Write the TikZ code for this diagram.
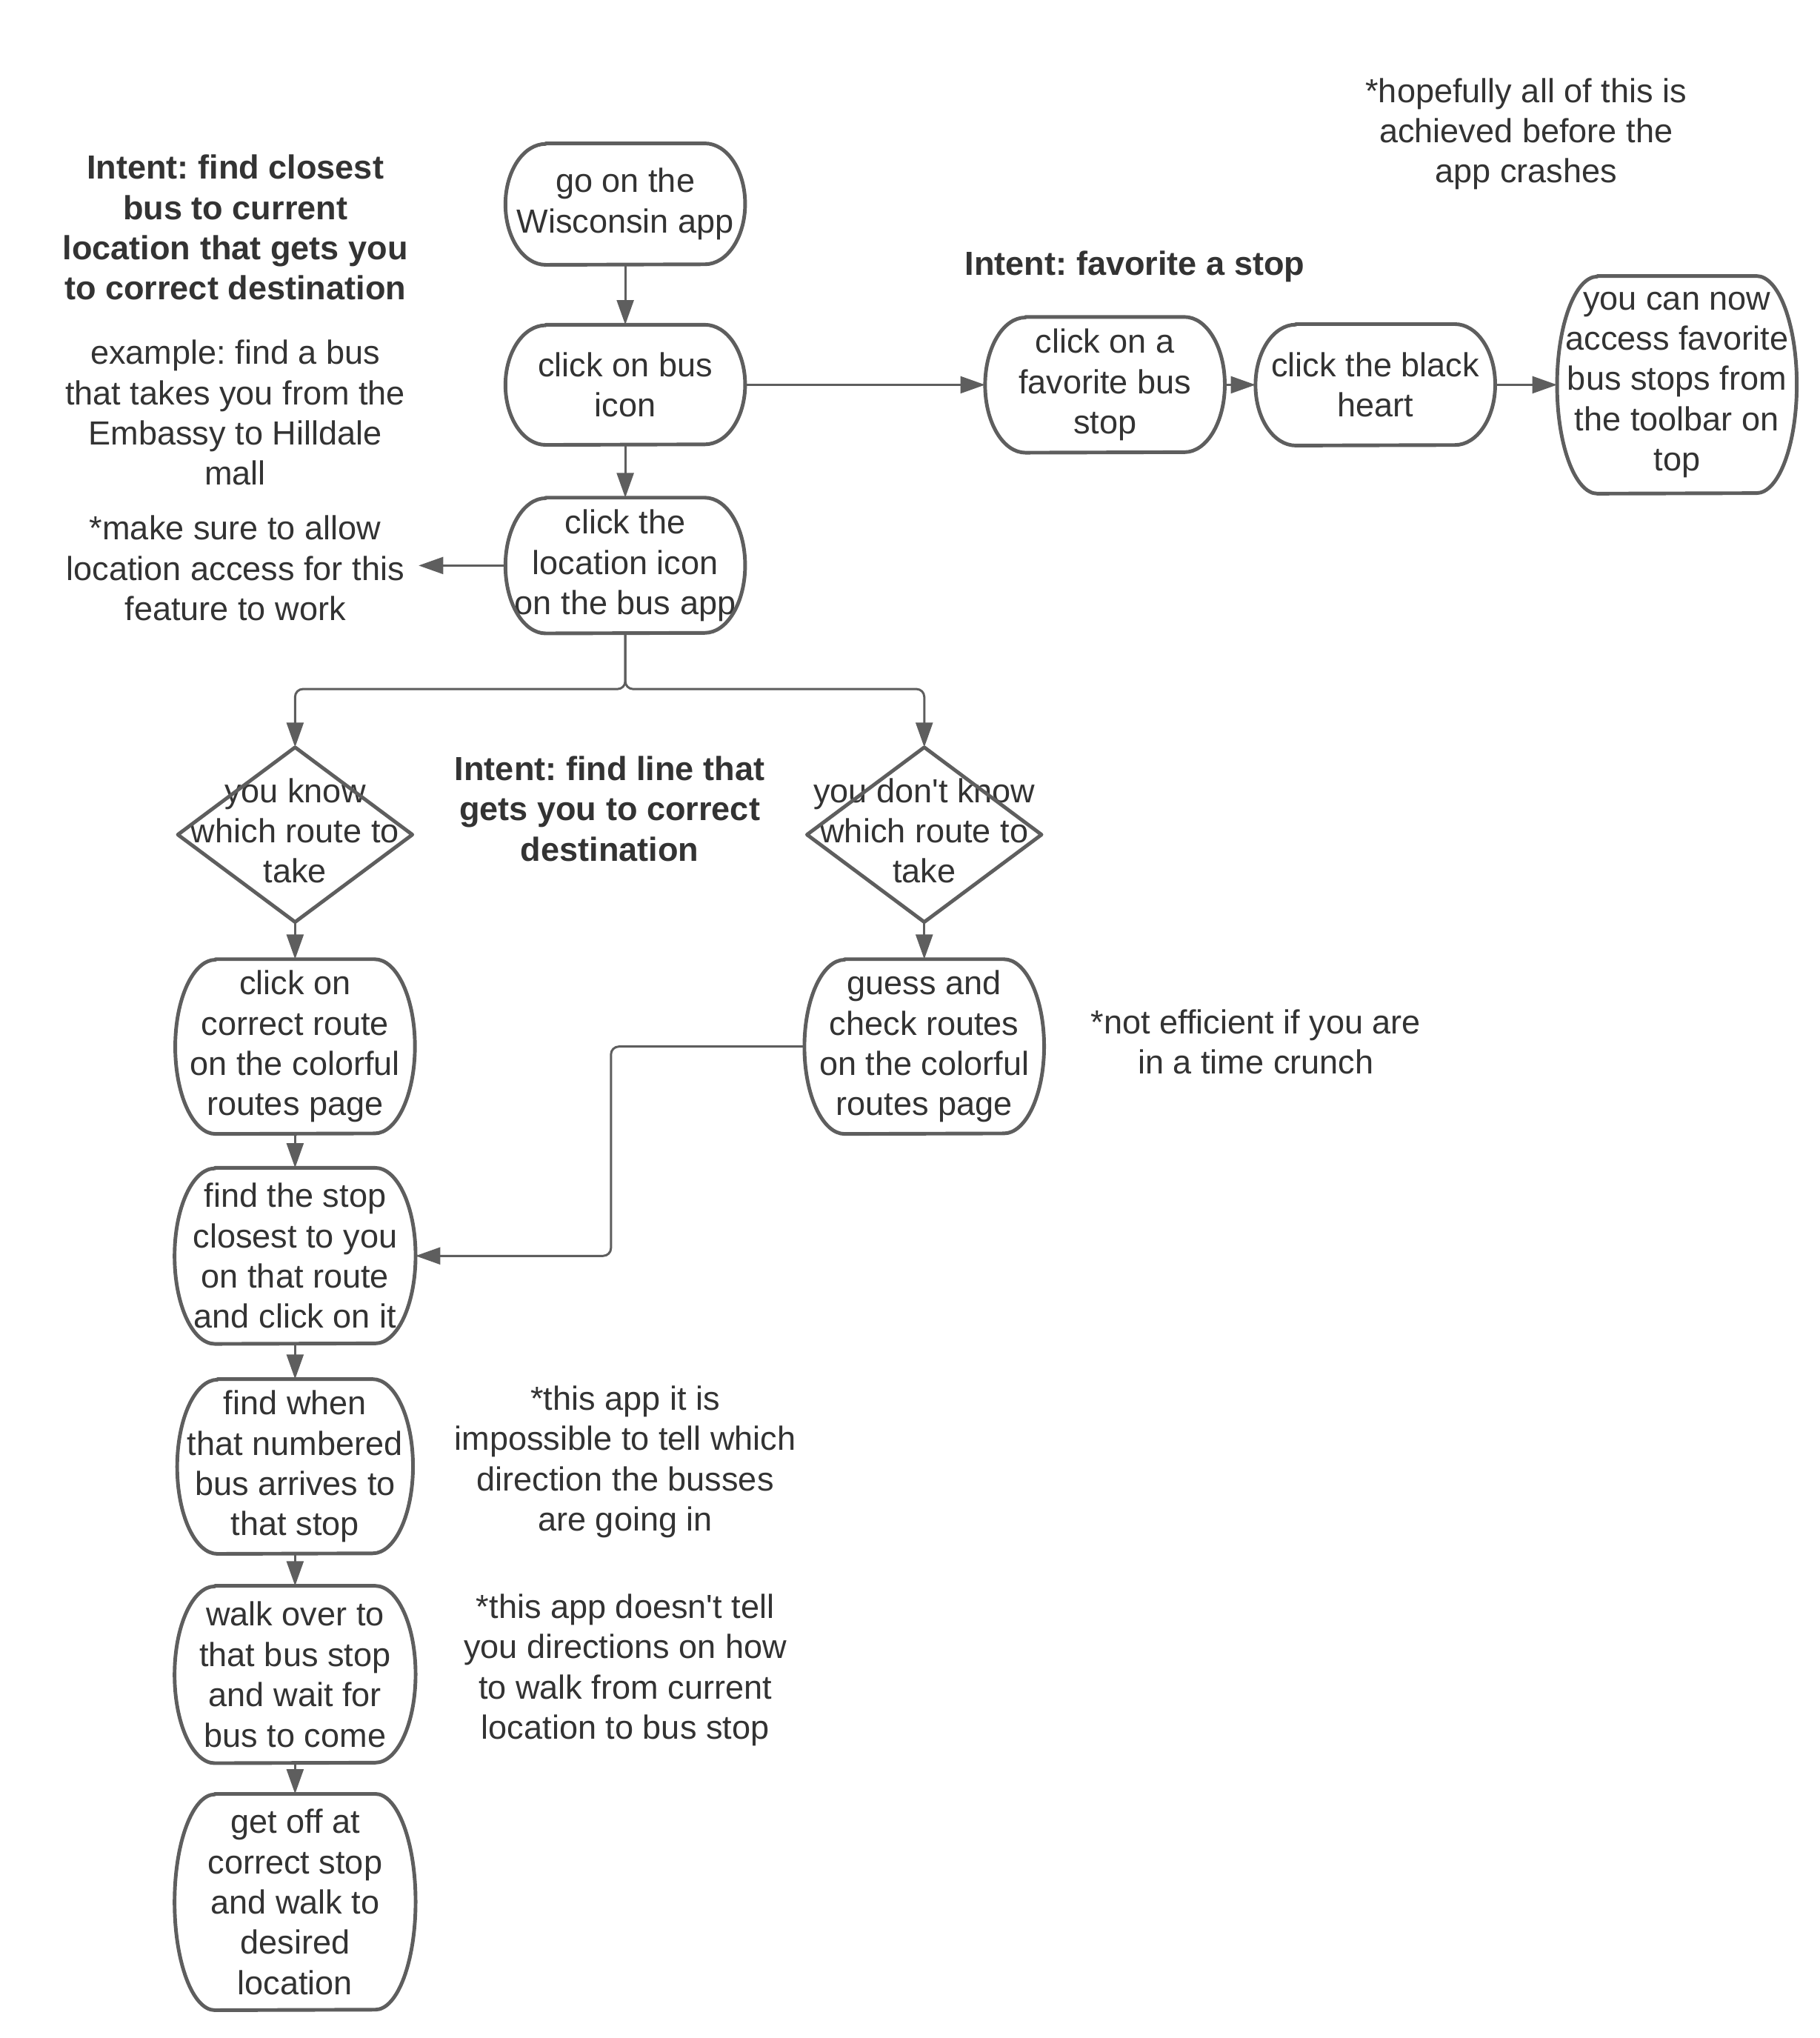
\documentclass[tikz,border=0pt]{standalone}
\usepackage{fontspec}
\setmainfont{Liberation Sans}[Ligatures=TeXOff]
\usetikzlibrary{arrows.meta,calc}
\definecolor{lc}{HTML}{5E5E5E}
\definecolor{tc}{HTML}{333333}
\newcommand\fsz{\fontsize{25.7}{31}\selectfont}
\frenchspacing
\tikzset{
  txt/.style={align=center, text=tc, font=\fsz, inner sep=0pt},
  btxt/.style={txt, font=\fsz\bfseries},
  conn/.style={draw=lc, line width=1.7pt, -{Triangle[length=19pt,width=13pt]}, rounded corners=6pt},
  outline/.style={draw=lc, line width=2.8pt, line join=round},
}
% terminator: name, x, y, w, h, text
\newcommand\termbox[6]{%
  \node[txt, minimum width=#4pt, minimum height=#5pt] (#1) at (#2,#3) {#6};
  \draw[outline] ($(#1.north west)+(31pt,0pt)$) -- ($(#1.north east)+(-31pt,0pt)$)
    arc[start angle=90,end angle=-90,x radius=31pt,y radius=#5pt/2]
    -- ($(#1.south west)+(31pt,0pt)$)
    arc[start angle=270,end angle=90,x radius=31pt,y radius=#5pt/2] -- cycle;
}
% decision: name, x, y, w, h, text
\newcommand\diabox[6]{%
  \node[txt, minimum width=#4pt, minimum height=#5pt] (#1) at (#2,#3) {};
  \node[txt] at ([yshift=3pt]#1.center) {#6};
  \draw[outline] (#1.north) -- (#1.east) -- (#1.south) -- (#1.west) -- cycle;
}
\begin{document}
\begin{tikzpicture}[x=1pt,y=-1pt]
\useasboundingbox[fill=white] (0,0) rectangle (1400,1567.6);

\termbox{n1}{481}{157}{184}{93}{go on the\\Wisconsin app}
\termbox{n2}{481}{296}{184}{92}{click on bus\\icon}
\termbox{n3}{481}{435}{184}{104}{click the\\location icon\\on the bus app}
\diabox{d1}{227}{642}{180}{134}{you know\\which route to\\take}
\diabox{d2}{711}{642}{180}{134}{you don't know\\which route to\\take}
\termbox{n4}{227}{805}{184}{134}{click on\\correct route\\on the colorful\\routes page}
\termbox{n5}{711}{805}{184}{134}{guess and\\check routes\\on the colorful\\routes page}
\termbox{n6}{227}{966}{185}{135}{find the stop\\closest to you\\on that route\\and click on it}
\termbox{n7}{227}{1128}{181}{134}{find when\\that numbered\\bus arrives to\\that stop}
\termbox{n8}{227}{1288}{185}{136}{walk over to\\that bus stop\\and wait for\\bus to come}
\termbox{n9}{227}{1463}{185}{166}{get off at\\correct stop\\and walk to\\desired\\location}
\termbox{f1}{850}{296}{184}{104}{click on a\\favorite bus\\stop}
\termbox{f2}{1058}{296}{184}{93}{click the black\\heart}
\termbox{f3}{1290}{296}{184}{167}{you can now\\access favorite\\bus stops from\\the toolbar on\\top}

\node[btxt] (t1) at (181,175) {Intent: find closest\\bus to current\\location that gets you\\to correct destination};
\node[txt] (t2) at (181,317.5) {example: find a bus\\that takes you from the\\Embassy to Hilldale\\mall};
\node[txt] (t3) at (181,437) {*make sure to allow\\location access for this\\feature to work};
\node[btxt] (t4) at (873,205) {Intent: favorite a stop};
\node[txt] (t5) at (1174,103) {*hopefully all of this is\\achieved before the\\app crashes};
\node[btxt] (t6) at (469,622) {Intent: find line that\\gets you to correct\\destination};
\node[txt] (t7) at (966,801.5) {*not efficient if you are\\in a time crunch};
\node[txt] (t8) at (481,1124.5) {*this app it is\\impossible to tell which\\direction the busses\\are going in};
\node[txt] (t9) at (481,1284.5) {*this app doesn't tell\\you directions on how\\to walk from current\\location to bus stop};

\coordinate (c3) at (322,435);
\coordinate (fk) at (481,530);
\coordinate (gk) at (470,805);

\draw[conn] (n1) -- (n2);
\draw[conn] (n2) -- (n3);
\draw[conn] (n3.west) -- (c3);
\draw[conn] (n3.south) -- (fk) -| (d1.north);
\draw[conn] (n3.south) -- (fk) -| (d2.north);
\draw[conn] (d1) -- (n4);
\draw[conn] (d2) -- (n5);
\draw[conn] (n4) -- (n6);
\draw[conn] (n6) -- (n7);
\draw[conn] (n7) -- (n8);
\draw[conn] (n8) -- (n9);
\draw[conn] (n5.west) -- (gk) |- (n6.east);
\draw[conn] (n2) -- (f1);
\draw[conn] (f1) -- (f2);
\draw[conn] (f2) -- (f3);
\end{tikzpicture}
\end{document}
